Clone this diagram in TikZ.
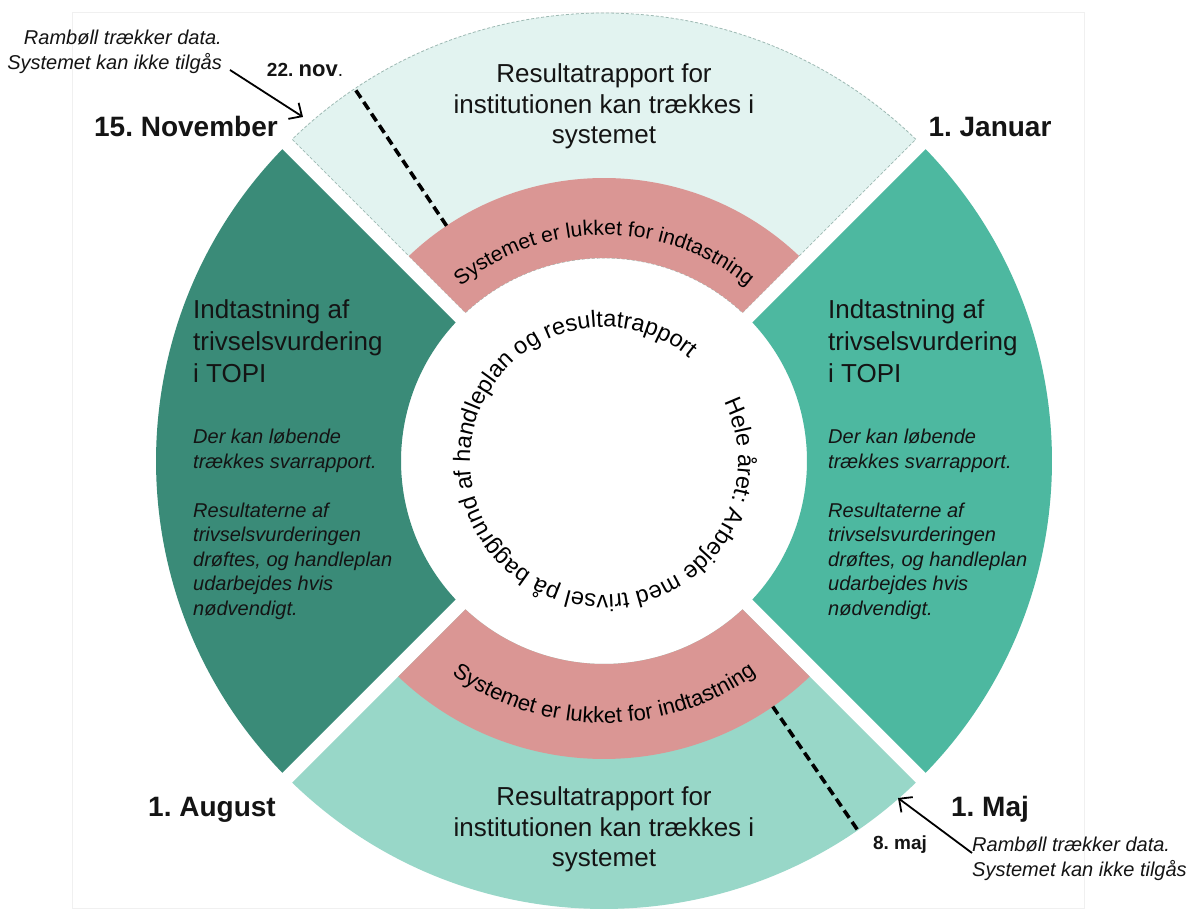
\documentclass[tikz,border=0pt]{standalone}
\usepackage{fontspec}
\setmainfont{Liberation Sans}
\usetikzlibrary{decorations.text,arrows.meta}
\frenchspacing

\definecolor{segtop}{HTML}{E2F3F0}
\definecolor{segright}{HTML}{4DB8A0}
\definecolor{segleft}{HTML}{3A8B78}
\definecolor{segbottom}{HTML}{98D7C8}
\definecolor{closedpink}{HTML}{DA9694}
\definecolor{edgegray}{HTML}{9DB9B3}
\definecolor{inktext}{HTML}{141414}

% annular sector between angles #2..#3 and radii #4..#5 (pt),
% trimmed by 7pt on each side so neighbouring pieces leave a white gap
\newcommand\ringseg[5]{%
  \path[#1]
    ({#2+asin(7/#5)}:#5pt)
      arc[start angle={#2+asin(7/#5)}, end angle={#3-asin(7/#5)}, radius=#5pt]
    -- ({#3-asin(7/#4)}:#4pt)
      arc[start angle={#3-asin(7/#4)}, end angle={#2+asin(7/#4)}, radius=#4pt]
    -- cycle;}

\newcommand\ringfont{\fontsize{23.5}{28}\selectfont}
\newcommand\bandfont{\fontsize{21}{25}\selectfont}
\newcommand\bandfontb{\fontsize{22}{26}\selectfont}

\begin{document}
\begin{tikzpicture}[x=1pt,y=1pt,
  datelabel/.style={font=\fontsize{28}{32}\selectfont\bfseries, text=inktext, inner sep=0pt, anchor=base},
  smalldate/.style={font=\fontsize{19}{22}\selectfont\bfseries, text=inktext, inner sep=0pt, anchor=base},
  segtitle/.style={font=\fontsize{26}{32}\selectfont, text=inktext, inner sep=0pt, align=left, anchor=base west},
  segnote/.style={font=\fontsize{20}{24.5}\selectfont\itshape, text=inktext, inner sep=0pt, align=left, anchor=base west},
  reporttext/.style={font=\fontsize{26}{30.5}\selectfont, text=inktext, inner sep=0pt, align=center, anchor=base},
  sidenote/.style={font=\fontsize{20}{25.5}\selectfont\itshape, text=inktext, inner sep=0pt, anchor=base},
  dashmark/.style={draw=black, line width=3.6pt, dash pattern=on 9pt off 5pt},
  notearrow/.style={draw=black, line width=1.8pt, -{Straight Barb[length=10pt,width=19pt]}},
  topedge/.style={draw=edgegray, line width=0.8pt, densely dashed}
]
\useasboundingbox (0,0) rectangle (1200,912);
\fill[white] (0,0) rectangle (1200,912);
\draw[black!6, line width=0.8pt] (72,900) rectangle (1084,4);

\begin{scope}[shift={(604,451)}]
  % the four quarters of the year
  \ringseg{fill=segright}{-45}{45}{203}{448}
  \ringseg{fill=segtop, topedge}{45}{135}{203}{448}
  \ringseg{fill=segleft}{135}{225}{203}{448}
  \ringseg{fill=segbottom}{225}{315}{203}{448}
  % closed periods
  \ringseg{fill=closedpink}{45}{135}{203}{283}
  \ringseg{fill=closedpink}{225}{315}{203}{298}
  % one-week markers
  \draw[dashmark] (123.8:283pt) -- (123.8:447pt);
  \draw[dashmark] (-55.5:298pt) -- (-55.5:447pt);
  % curved captions
  \path[decorate, decoration={text along path, text align=center,
      text={|\bandfont|Systemet er lukket for indtastning}}]
    (133:226pt) arc[start angle=133, end angle=47, radius=226pt];
  \path[decorate, decoration={text along path, text align=center,
      text={|\bandfontb|Systemet er lukket for indtastning}}]
    (227:262pt) arc[start angle=227, end angle=313, radius=262pt];
  \path[decorate, decoration={text along path, text align=left,
      text={|\ringfont|Hele året: Arbejde med trivsel på baggrund af handleplan og resultatrapport}}]
    (26.4:134pt) arc[start angle=26.4, end angle=-333.6, radius=134pt];
\end{scope}

% report periods (anchored on the baseline of the last line)
\node[reporttext] (reportTop) at (604,768) {Resultatrapport for\\institutionen kan trækkes i\\systemet};
\node[reporttext] (reportBottom) at (604,45) {Resultatrapport for\\institutionen kan trækkes i\\systemet};

% registration periods
\node[segtitle] (entryLeft) at (193,529) {Indtastning af\\trivselsvurdering\\i TOPI};
\node[segnote] (noteLeft) at (193,296.5) {Der kan løbende\\trækkes svarrapport.\\[24.5pt]Resultaterne af\\trivselsvurderingen\\drøftes, og handleplan\\udarbejdes hvis\\nødvendigt.};
\node[segtitle] (entryRight) at (828,529) {Indtastning af\\trivselsvurdering\\i TOPI};
\node[segnote] (noteRight) at (828,296.5) {Der kan løbende\\trækkes svarrapport.\\[24.5pt]Resultaterne af\\trivselsvurderingen\\drøftes, og handleplan\\udarbejdes hvis\\nødvendigt.};

% dates
\node[datelabel] (dNov) at (186,775) {15. November};
\node[datelabel] (dJan) at (990,775) {1. Januar};
\node[datelabel] (dAug) at (212,95) {1. August};
\node[datelabel] (dMay) at (990,95) {1. Maj};
\node[smalldate] (dNovWeek) at (305,835) {22. {\fontsize{22}{24}\selectfont nov}{\mdseries .}};
\node[smalldate] (dMayWeek) at (900,62) {8. maj};

% data extraction notes
\node[sidenote, align=right, anchor=base east] (extractTop) at (222,842) {Rambøll trækker data.\\Systemet kan ikke tilgås};
\node[sidenote, align=left, anchor=base west] (extractBottom) at (972,35) {Rambøll trækker data.\\Systemet kan ikke tilgås};

\coordinate (topTail) at (230,842);
\coordinate (topTip) at (303,795);
\coordinate (bottomTail) at (972,59);
\coordinate (bottomTip) at (898,114);
\draw[notearrow] (topTail) -- (topTip);
\draw[notearrow] (bottomTail) -- (bottomTip);
\end{tikzpicture}
\end{document}
